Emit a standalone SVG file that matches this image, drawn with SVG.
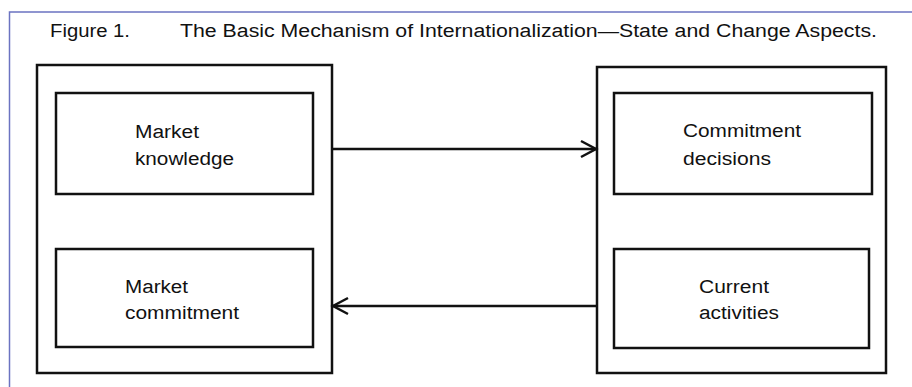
<svg xmlns="http://www.w3.org/2000/svg" width="912" height="387" viewBox="0 0 912 387">
<defs>
<style>
.frame{fill:none;stroke:#6b73c1;stroke-width:1.5}
.box{fill:#fff;stroke:#111;stroke-width:2.5}
.conn{fill:none;stroke:#111;stroke-width:2.5}
.head{fill:none;stroke:#111;stroke-width:2.5;stroke-linejoin:miter}
text{font-family:"Liberation Sans",Arial,sans-serif;font-size:18px;fill:#111}
</style>
</defs>
<rect width="912" height="387" fill="#fff"/>
<path class="frame" d="M9.5,387 V12 H912"/>
<g id="title">
<text x="50" y="37" textLength="80" lengthAdjust="spacingAndGlyphs">Figure 1.</text>
<text x="180" y="37" textLength="697" lengthAdjust="spacingAndGlyphs">The Basic Mechanism of Internationalization—State and Change Aspects.</text>
</g>
<g id="state">
<rect class="box" x="37" y="65" width="295" height="308"/>
<g id="market-knowledge">
<rect class="box" x="56" y="93" width="257" height="101"/>
<text x="135" y="138" textLength="64" lengthAdjust="spacingAndGlyphs">Market</text>
<text x="135" y="165" textLength="99" lengthAdjust="spacingAndGlyphs">knowledge</text>
</g>
<g id="market-commitment">
<rect class="box" x="56" y="249" width="257" height="98"/>
<text x="125" y="293" textLength="63" lengthAdjust="spacingAndGlyphs">Market</text>
<text x="125" y="319" textLength="114" lengthAdjust="spacingAndGlyphs">commitment</text>
</g>
</g>
<g id="change">
<rect class="box" x="597" y="67" width="289" height="306"/>
<g id="commitment-decisions">
<rect class="box" x="614" y="93" width="258" height="101"/>
<text x="683" y="137" textLength="118" lengthAdjust="spacingAndGlyphs">Commitment</text>
<text x="683" y="165" textLength="88" lengthAdjust="spacingAndGlyphs">decisions</text>
</g>
<g id="current-activities">
<rect class="box" x="614" y="249" width="255" height="99"/>
<text x="699" y="293" textLength="70" lengthAdjust="spacingAndGlyphs">Current</text>
<text x="699" y="319" textLength="80" lengthAdjust="spacingAndGlyphs">activities</text>
</g>
</g>
<g id="connectors">
<line class="conn" x1="332" y1="149" x2="596" y2="149"/>
<polyline class="head" points="581,141 596,149 581,157"/>
<line class="conn" x1="597" y1="306" x2="333" y2="306"/>
<polyline class="head" points="348,298 333,306 348,314"/>
</g>
</svg>
